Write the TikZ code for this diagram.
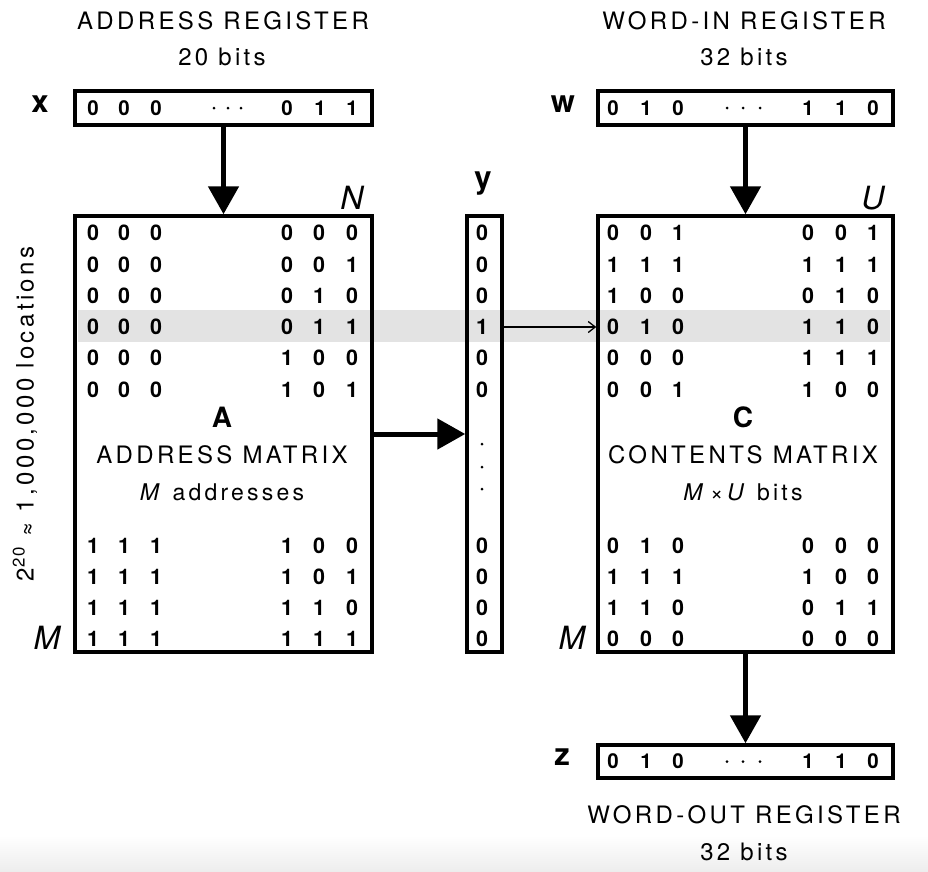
\documentclass[tikz,border=0pt]{standalone}
\usepackage{fontspec}
\setmainfont{TeX Gyre Heros}
\newfontfamily\trk[LetterSpace=14]{TeX Gyre Heros}
\usetikzlibrary{arrows.meta}
\begin{document}
\begin{tikzpicture}[x=1pt,y=-1pt,
  regbox/.style={draw, line width=3.5pt, inner sep=0pt, minimum width=297pt, minimum height=34pt},
  matbox/.style={draw, line width=3.5pt, inner sep=0pt, minimum width=297pt, minimum height=436pt},
  colbox/.style={draw, line width=3.5pt, inner sep=0pt, minimum width=35pt, minimum height=436pt},
  bit/.style={inner sep=0pt, font=\fontsize{21.5}{21.5}\selectfont\bfseries},
  rbit/.style={inner sep=0pt, font=\fontsize{20.5}{20.5}\selectfont\bfseries},
  title/.style={inner sep=0pt, font=\fontsize{24}{24}\selectfont\trk},
  sub/.style={inner sep=0pt, font=\fontsize{24}{24}\selectfont\trk},
  vlab/.style={inner sep=0pt, font=\fontsize{31}{31}\selectfont\bfseries},
  ilab/.style={inner sep=0pt, font=\fontsize{32}{32}\selectfont\itshape},
  mlab/.style={inner sep=0pt, font=\fontsize{28}{28}\selectfont\bfseries},
  bigarrow/.style={line width=5pt, -{Triangle[length=28pt,width=30pt]}},
  thinarrow/.style={line width=1.3pt, -{Straight Barb[length=7pt,width=11pt]}},
  dotc/.style={fill=black}
]
\useasboundingbox (0,0) rectangle (928,871);
\shade[top color=white, bottom color=black!7] (0,836) rectangle (928,871);

% highlight band
\fill[black!11] (78,310) rectangle (890,342);

% titles
\node[title] (tA) at (223,21) {ADDRESS REGISTER};
\node[sub] (tA2) at (222,57) {20 bits};
\node[title] (tW) at (744,21) {WORD-IN REGISTER};
\node[sub] (tW2) at (744,57) {32 bits};
\node[title] (tZ) at (744,815) {WORD-OUT REGISTER};
\node[sub] (tZ2) at (744,852) {32 bits};

% registers
\node[regbox] (X) at (223.5,108) {};
\node[regbox, minimum width=295pt] (W) at (745.5,108) {};
\node[regbox, minimum width=295pt, minimum height=33pt] (Z) at (745.5,761.5) {};
\node[vlab] (xl) at (40,104) {x};
\node[vlab] (wl) at (563,104) {w};
\node[vlab] (zl) at (562,757) {z};

\foreach \v/\cx/\k in {0/93/1,0/124/2,0/156/3,0/287/4,1/320/5,1/352/6}
  \node[rbit] (X-\k) at (\cx,108) {\v};
\foreach \v/\cx/\k in {0/613/1,1/646/2,0/678/3,1/808/4,1/841/5,0/873/6}
  \node[rbit] (W-\k) at (\cx,108) {\v};
\foreach \v/\cx/\k in {0/613/1,1/646/2,0/678/3,1/808/4,1/841/5,0/873/6}
  \node[rbit] (Z-\k) at (\cx,761.5) {\v};
\foreach \cx in {214,228,241} \fill[dotc] (\cx,108) circle (1.5pt);
\foreach \cx in {727,743,760} \fill[dotc] (\cx,108) circle (1.5pt);
\foreach \cx in {727,743,760} \fill[dotc] (\cx,761.5) circle (1.5pt);

% matrices
\node[matbox] (A) at (223.5,434) {};
\node[colbox] (Yb) at (484.5,434) {};
\node[matbox, minimum width=295pt] (C) at (745.5,434) {};

\node[vlab] (yl) at (483,184) {y};
\node[ilab] (Nl) at (352,198) {N};
\node[ilab] (Ul) at (873,198) {U};
\node[ilab] (Ml1) at (47,638) {M};
\node[ilab] (Ml2) at (572,638) {M};

% A matrix bits
\foreach \r/\yy/\a/\b/\c/\d/\e/\f in {
  1/233/0/0/0/0/0/0, 2/264.5/0/0/0/0/0/1, 3/296/0/0/0/0/1/0, 4/327/0/0/0/0/1/1,
  5/358/0/0/0/1/0/0, 6/390/0/0/0/1/0/1,
  7/546/1/1/1/1/0/0, 8/577/1/1/1/1/0/1, 9/608/1/1/1/1/1/0, 10/639/1/1/1/1/1/1} {
  \foreach \v/\cx/\k in {\a/93/1,\b/124/2,\c/156/3,\d/287/4,\e/319/5,\f/352/6}
    \node[bit] (A-\r-\k) at (\cx,\yy) {\v};
}
% C matrix bits
\foreach \r/\yy/\a/\b/\c/\d/\e/\f in {
  1/233/0/0/1/0/0/1, 2/264.5/1/1/1/1/1/1, 3/296/1/0/0/0/1/0, 4/327/0/1/0/1/1/0,
  5/358/0/0/0/1/1/1, 6/390/0/0/1/1/0/0,
  7/546/0/1/0/0/0/0, 8/577/1/1/1/1/0/0, 9/608/1/1/0/0/1/1, 10/639/0/0/0/0/0/0} {
  \foreach \v/\cx/\k in {\a/613/1,\b/646/2,\c/678/3,\d/808/4,\e/841/5,\f/873/6}
    \node[bit] (C-\r-\k) at (\cx,\yy) {\v};
}
% y column
\foreach \r/\yy/\v in {1/233/0,2/264.5/0,3/296/0,4/327/1,5/358/0,6/390/0,
  7/546/0,8/577/0,9/608/0,10/639/0}
  \node[bit] (Y-\r) at (482,\yy) {\v};
\foreach \yy in {444,467,489} \fill[dotc] (482,\yy) circle (1.5pt);

% matrix labels
\node[mlab] (Al) at (222,417) {A};
\node[sub] (An) at (222,455) {ADDRESS MATRIX};
\node[sub, font=\fontsize{23}{23}\selectfont\trk] (Ad) at (222,492) {\textit{M} addresses};
\node[mlab] (Cl) at (743,417) {C};
\node[sub] (Cn) at (743,455) {CONTENTS MATRIX};
\node[sub, font=\fontsize{23}{23}\selectfont\trk] (Cd) at (743,492) {\textit{M}\,{\fontsize{22}{22}\selectfont ×}\,\textit{U} bits};

% vertical label
\node[sub, rotate=90] (loc) at (25,414) {2\textsuperscript{20} {\fontsize{22}{22}\selectfont ≈} 1,000,000 locations};

% arrows
\draw[bigarrow] (X.south) -- (A.north);
\draw[bigarrow] (W.south) -- (C.north);
\draw[bigarrow] (C.south) -- (Z.north);
\draw[bigarrow] (A.east) -- (Yb.west);
\draw[thinarrow] (Yb.east |- Y-4) -- (C.west |- Y-4);
\end{tikzpicture}
\end{document}
